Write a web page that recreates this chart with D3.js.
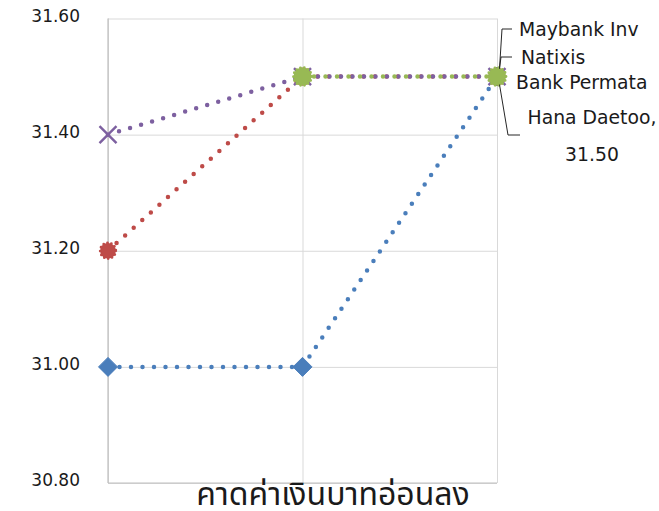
<!DOCTYPE html>
<html>
<head>
<meta charset="utf-8">
<script src="https://cdn.jsdelivr.net/npm/d3@7/dist/d3.min.js"></script>
<style>
  html, body { margin: 0; padding: 0; background: #fff; }
  svg { display: block; }
</style>
</head>
<body>
<svg id="chart" width="659" height="511"></svg>
<script>
// Forecast periods (category positions on the x axis)
const periods = ["p1", "p2", "p3"];

// Forecast values per house (null = no forecast for that period)
const maybankValues = [31.00, 31.00, 31.50];
const natixisValues = [31.20, 31.50, 31.50];
const permataValues = [31.40, 31.50, 31.50];
const hanaValues    = [null, 31.50, 31.50];

const seriesNames  = ["Maybank Inv", "Natixis", "Bank Permata", "Hana Daetoo"];
const yTickValues  = [30.80, 31.00, 31.20, 31.40, 31.60];
const axisTitle    = "คาดค่าเงินบาทอ่อนลง";

const series = [
  { name: seriesNames[0], values: maybankValues, color: "#4a7ebb", marker: "diamond" },
  { name: seriesNames[1], values: natixisValues, color: "#be4b48", marker: "circle" },
  { name: seriesNames[2], values: permataValues, color: "#7d60a0", marker: "x" },
  { name: seriesNames[3], values: hanaValues,    color: "#98b954", marker: "circleBig" }
];

const svg = d3.select("#chart");
const plot = { left: 108, right: 497, top: 18.5, bottom: 483 };

const x = d3.scalePoint().domain(periods).range([plot.left, plot.right]);
const y = d3.scaleLinear().domain([30.8, 31.6]).range([plot.bottom, plot.top]);

// Horizontal gridlines with value labels
const yAxis = svg.append("g")
  .attr("transform", `translate(${plot.left},0)`)
  .call(d3.axisLeft(y).tickValues(yTickValues)
    .tickSize(-(plot.right - plot.left)).tickPadding(28)
    .tickFormat(d3.format(".2f")));
yAxis.select(".domain").remove();
yAxis.selectAll(".tick line").attr("stroke", "#d9d9d9").attr("stroke-width", 1);
yAxis.selectAll(".tick text")
  .attr("fill", "#1a1a1a")
  .style("font-family", "'DejaVu Sans', sans-serif")
  .style("font-size", "17px")
  .attr("dy", "0.17em");

// Vertical gridlines at each period
const xAxis = svg.append("g")
  .attr("transform", `translate(0,${plot.bottom})`)
  .call(d3.axisBottom(x).tickSize(-(plot.bottom - plot.top)).tickFormat(""));
xAxis.select(".domain").remove();
xAxis.selectAll(".tick line").attr("stroke", "#d9d9d9").attr("stroke-width", 1);

// Axis lines
svg.append("line")
  .attr("x1", plot.left).attr("x2", plot.left)
  .attr("y1", plot.top).attr("y2", plot.bottom)
  .attr("stroke", "#bfbfbf").attr("stroke-width", 1.2);
svg.append("line")
  .attr("x1", plot.left).attr("x2", plot.right)
  .attr("y1", plot.bottom).attr("y2", plot.bottom)
  .attr("stroke", "#bfbfbf").attr("stroke-width", 1.2);

// Dotted series lines
const line = d3.line()
  .defined(d => d.v != null)
  .x(d => x(d.p))
  .y(d => y(d.v));

const lineData = s => periods.map((p, i) => ({ p, v: s.values[i] }));

series.forEach(s => {
  svg.append("path")
    .datum(lineData(s))
    .attr("d", line)
    .attr("fill", "none")
    .attr("stroke", s.color)
    .attr("stroke-width", 4.5)
    .attr("stroke-linecap", "round")
    .attr("stroke-dasharray", "0 11.5");
});

// Markers
series.forEach(s => {
  const pts = lineData(s).filter(d => d.v != null);
  const g = svg.append("g");
  pts.forEach(d => {
    const cx = x(d.p), cy = y(d.v);
    if (s.marker === "diamond") {
      g.append("path")
        .attr("d", "M0,-9.5L9.5,0L0,9.5L-9.5,0Z")
        .attr("transform", `translate(${cx},${cy})`)
        .attr("fill", s.color)
        .attr("stroke", s.color).attr("stroke-width", 1)
        .attr("stroke-linejoin", "round");
    } else if (s.marker === "x") {
      g.append("path")
        .attr("d", "M-8.5,-8.5L8.5,8.5M-8.5,8.5L8.5,-8.5")
        .attr("transform", `translate(${cx},${cy})`)
        .attr("stroke", s.color).attr("stroke-width", 2.4).attr("fill", "none");
    } else {
      const r = s.marker === "circleBig" ? 9 : 7.8;
      g.append("circle")
        .attr("cx", cx).attr("cy", cy).attr("r", r)
        .attr("fill", s.color)
        .attr("stroke", s.color).attr("stroke-width", 2.8)
        .attr("stroke-linecap", "round")
        .attr("stroke-dasharray", "0 4");
    }
  });
});

// Data labels on the last period with leader lines
const labelFont = "'DejaVu Sans', sans-serif";
const lastY = y(hanaValues[hanaValues.length - 1]);

const leaders = [
  [[512, 29], [502, 29], [499.5, lastY - 8]],
  [[512, 57], [501, 57], [499.5, lastY - 8]],
  [[520, 135], [508, 135], [499.5, lastY + 8]]
];
leaders.forEach(pts => {
  svg.append("path")
    .attr("d", d3.line()(pts))
    .attr("fill", "none")
    .attr("stroke", "#262626")
    .attr("stroke-width", 1);
});

const labels = [
  { text: seriesNames[0], x: 519, y: 29, anchor: "start" },
  { text: seriesNames[1], x: 521, y: 57, anchor: "start" },
  { text: seriesNames[2], x: 516, y: 82, anchor: "start" },
  { text: seriesNames[3] + ",", x: 592, y: 117, anchor: "middle" },
  { text: d3.format(".2f")(hanaValues[2]), x: 592, y: 154, anchor: "middle" }
];
svg.append("g").selectAll("text").data(labels).join("text")
  .attr("x", d => d.x).attr("y", d => d.y)
  .attr("dy", "0.35em")
  .attr("text-anchor", d => d.anchor)
  .attr("fill", "#1a1a1a")
  .style("font-family", labelFont)
  .style("font-size", "18.8px")
  .text(d => d.text);

// Axis title
svg.append("text")
  .attr("x", 333).attr("y", 505)
  .attr("text-anchor", "middle")
  .attr("fill", "#1a1a1a")
  .style("font-family", "Tahoma, 'Noto Sans Thai', 'Noto Sans', sans-serif")
  .style("font-size", "32px")
  .text(axisTitle);
</script>
</body>
</html>
